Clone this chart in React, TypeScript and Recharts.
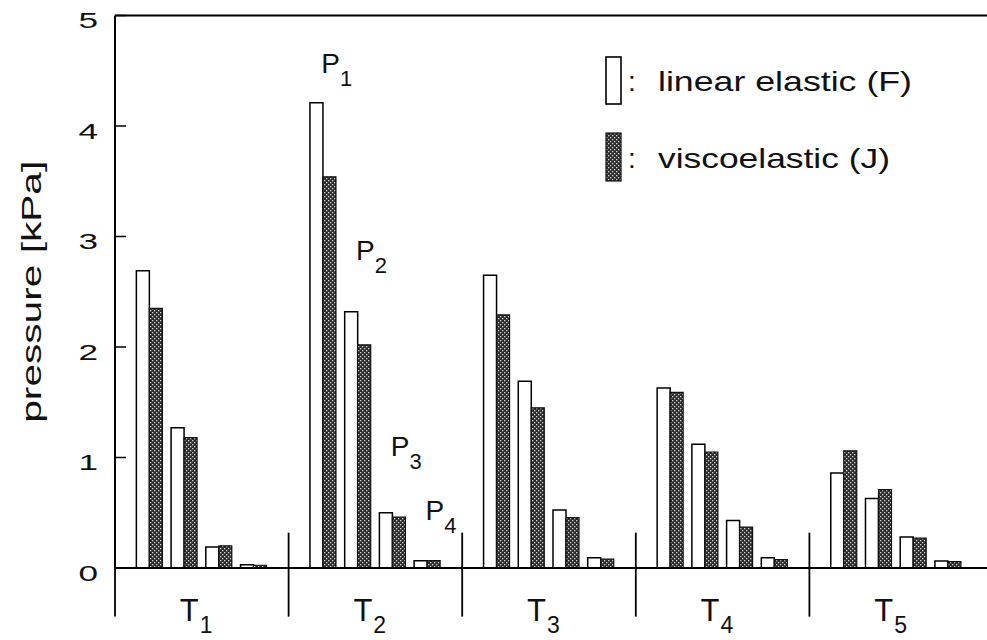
import React from 'react';
import { BarChart, Bar, XAxis, YAxis, ReferenceLine, ReferenceDot, Legend } from 'recharts';

// ---- data ----
const categories = ['T1', 'T2', 'T3', 'T4', 'T5'];
const positions = ['P1', 'P2', 'P3', 'P4'];
// linear elastic (F), per category, P1..P4  [kPa]
const linearElastic = [
  [2.69, 1.27, 0.19, 0.03],
  [4.21, 2.32, 0.5, 0.066],
  [2.65, 1.69, 0.525, 0.093],
  [1.63, 1.12, 0.43, 0.093],
  [0.86, 0.63, 0.28, 0.063],
];
// viscoelastic (J), per category, P1..P4  [kPa]
const viscoelastic = [
  [2.35, 1.18, 0.2, 0.025],
  [3.54, 2.02, 0.46, 0.066],
  [2.29, 1.45, 0.455, 0.08],
  [1.59, 1.05, 0.37, 0.075],
  [1.06, 0.71, 0.27, 0.057],
];
const yTicks = [0, 1, 2, 3, 4, 5];
const yAxisTitle = 'pressure  [kPa]';
const legendLabels = ['linear  elastic  (F)', 'viscoelastic  (J)'];
// P-labels annotate the bars of one category, at these pressure levels
const pLabelCategory = 'T2';
const pLabelLevels = [4.48, 2.79, 1.01, 0.43];
// category separator extent (in kPa units, below/above baseline)
const separatorSpan = [-0.44, 0.32];

// ---- table built from arrays ----
type Row = { key: string; linear: number | null; visco: number | null };
const rows: Row[] = [];
categories.forEach((c, ci) => {
  if (ci > 0) rows.push({ key: `gap-${ci}`, linear: null, visco: null });
  positions.forEach((p, pi) =>
    rows.push({ key: `${c}-${p}`, linear: linearElastic[ci][pi], visco: viscoelastic[ci][pi] })
  );
});

const FONT = '"Liberation Sans", Arial, sans-serif';
const INK = '#111';

const SubText = ({ x, y, base, sub, size, subSize, dx, dy }: any) => (
  <text x={x} y={y} fontFamily={FONT} fill={INK} fontSize={size}>
    <tspan>{base}</tspan>
    <tspan dx={dx} dy={dy} fontSize={subSize}>{sub}</tspan>
  </text>
);

const YTick = (props: any) => {
  const { x, y, payload } = props;
  return (
    <g transform={`translate(${x},${y + 12.5}) scale(1.6,1)`}>
      <text x={0} y={0} textAnchor="end" fontFamily={FONT} fontSize={22} fill={INK}>
        {payload.value}
      </text>
    </g>
  );
};

const CatTick = (props: any) => {
  const { x, y, payload } = props;
  const idx = Math.floor(payload.value);
  const name = categories[idx] || '';
  return (
    <SubText x={x - 22} y={y + 22.5} base={name.slice(0, 1)} sub={name.slice(1)} size={31} subSize={23} dx={1} dy={12.5} />
  );
};

const YTitle = (props: any) => {
  const vb = props.viewBox || { x: 0, y: 15.5, width: 115, height: 552 };
  const cx = 41;
  const cy = vb.y + vb.height / 2;
  return (
    <text
      transform={`rotate(-90 ${cx} ${cy})`}
      x={cx}
      y={cy}
      textAnchor="middle"
      fontFamily={FONT}
      fontSize={27}
      fill={INK}
      textLength={262}
      lengthAdjust="spacingAndGlyphs"
    >
      {yAxisTitle}
    </text>
  );
};

const LegendContent = () => (
  <svg width={340} height={150} style={{ display: 'block', overflow: 'visible' }}>
    <rect x={16} y={12} width={15} height={47} fill="#fff" stroke="#000" strokeWidth={1.6} />
    <text x={38} y={46} fontFamily={FONT} fontSize={28} fill={INK}>:</text>
    <text x={68} y={46} fontFamily={FONT} fontSize={28} fill={INK} textLength={254} lengthAdjust="spacingAndGlyphs">
      {legendLabels[0]}
    </text>
    <rect x={16} y={88} width={15} height={48} fill="url(#hatch)" stroke="#111" strokeWidth={1.2} />
    <text x={38} y={123} fontFamily={FONT} fontSize={28} fill={INK}>:</text>
    <text x={68} y={123} fontFamily={FONT} fontSize={28} fill={INK} textLength={232} lengthAdjust="spacingAndGlyphs">
      {legendLabels[1]}
    </text>
  </svg>
);

export default function App() {
  return (
    <div style={{ position: 'absolute', left: 0, top: 0, width: 987, height: 640, background: '#fff' }}>
      <BarChart
        width={987}
        height={640}
        data={rows}
        margin={{ top: 15.5, right: 4, left: 0, bottom: 0 }}
        barGap={0}
      >
        <defs>
          <pattern id="hatch" width="4" height="4" patternUnits="userSpaceOnUse">
            <rect width="4" height="4" fill="#2b2b2b" />
            <rect x="0" y="0" width="1.3" height="1.3" fill="#d8d8d8" />
            <rect x="2" y="2" width="1.3" height="1.3" fill="#d8d8d8" />
          </pattern>
        </defs>
        <XAxis xAxisId="bars" dataKey="key" type="category" hide padding={{ left: 17.36, right: 17.36 }} />
        <XAxis
          xAxisId="num"
          dataKey="__none"
          type="number"
          domain={[0, 5]}
          ticks={[0.5, 1.5, 2.5, 3.5, 4.5]}
          allowDataOverflow
          axisLine={false}
          tickLine={false}
          tickSize={0}
          tickMargin={0}
          height={72}
          tick={<CatTick />}
        />
        <YAxis
          type="number"
          domain={[0, 5]}
          ticks={yTicks}
          interval={0}
          allowDataOverflow
          width={115}
          axisLine={{ stroke: '#000', strokeWidth: 2 }}
          tickLine={{ stroke: '#000', strokeWidth: 1.5 }}
          tickSize={-11}
          tickMargin={28}
          tick={<YTick />}
          label={{ content: <YTitle /> }}
        />
        <Bar xAxisId="bars" dataKey="linear" fill="#fff" stroke="#000" strokeWidth={1.5} barSize={13} isAnimationActive={false} />
        <Bar xAxisId="bars" dataKey="visco" fill="url(#hatch)" stroke="#111" strokeWidth={1.2} barSize={13} isAnimationActive={false} />
        <ReferenceLine xAxisId="num" segment={[{ x: 0, y: 5 }, { x: 5.03, y: 5 }]} stroke="#000" strokeWidth={2} ifOverflow="visible" />
        <ReferenceLine xAxisId="num" segment={[{ x: 0, y: 0 }, { x: 5.03, y: 0 }]} stroke="#000" strokeWidth={2} ifOverflow="visible" />
        {[0, 1, 2, 3, 4].map((i) => (
          <ReferenceLine
            key={`sep-${i}`}
            xAxisId="num"
            segment={[{ x: i, y: separatorSpan[0] }, { x: i, y: separatorSpan[1] }]}
            stroke="#000"
            strokeWidth={1.8}
            ifOverflow="visible"
          />
        ))}
        {positions.map((p, i) => (
          <ReferenceDot
            key={`lbl-${p}`}
            xAxisId="bars"
            x={`${pLabelCategory}-${p}`}
            y={pLabelLevels[i]}
            r={0}
            ifOverflow="visible"
            shape={(sp: any) => (
              <SubText x={sp.cx - 2} y={sp.cy} base={p.slice(0, 1)} sub={p.slice(1)} size={28} subSize={22} dx={0} dy={13} />
            )}
          />
        ))}
        <Legend
          layout="horizontal"
          verticalAlign="middle"
          align="center"
          wrapperStyle={{ left: 590, top: 45, width: 340, height: 150 }}
          content={<LegendContent />}
        />
      </BarChart>
    </div>
  );
}
